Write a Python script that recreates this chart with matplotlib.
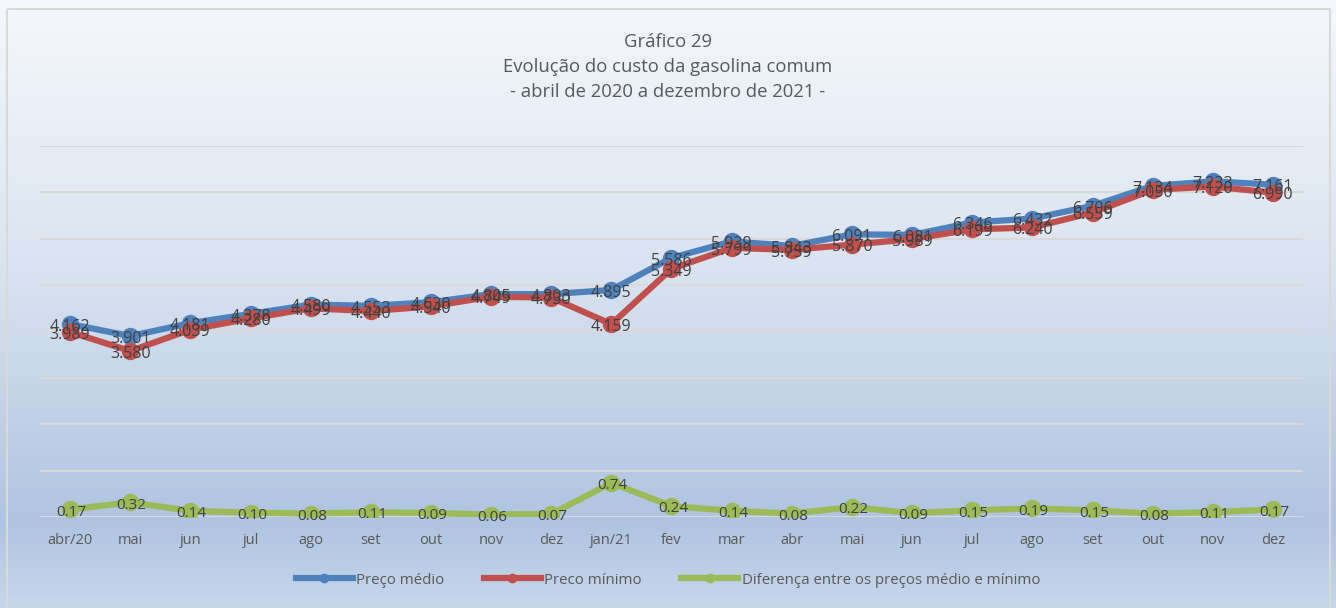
import matplotlib.pyplot as plt
import numpy as np
from matplotlib.colors import LinearSegmentedColormap
from matplotlib.lines import Line2D
from matplotlib.patches import Rectangle

plt.rcParams['font.family'] = ['Open Sans', 'DejaVu Sans']

meses = ['abr/20', 'mai', 'jun', 'jul', 'ago', 'set', 'out', 'nov', 'dez',
         'jan/21', 'fev', 'mar', 'abr', 'mai', 'jun', 'jul', 'ago', 'set',
         'out', 'nov', 'dez']
preco_medio = [4.162, 3.901, 4.181, 4.378, 4.580, 4.553, 4.630, 4.805, 4.803,
               4.895, 5.586, 5.939, 5.843, 6.091, 6.081, 6.346, 6.432, 6.706,
               7.134, 7.233, 7.161]
preco_minimo = [3.989, 3.580, 4.039, 4.280, 4.499, 4.440, 4.540, 4.749, 4.730,
                4.159, 5.349, 5.799, 5.759, 5.870, 5.989, 6.199, 6.240, 6.559,
                7.050, 7.120, 6.990]
diferenca = [0.17, 0.32, 0.14, 0.10, 0.08, 0.11, 0.09, 0.06, 0.07, 0.74, 0.24,
             0.14, 0.08, 0.22, 0.09, 0.15, 0.19, 0.15, 0.08, 0.11, 0.17]

azul = '#4f81bd'
vermelho = '#c0504d'
verde = '#9bbb59'
cinza = '#595959'

W, H = 1336, 608
fig = plt.figure(figsize=(W / 100, H / 100), dpi=100)

# fundo em degradê
bg = fig.add_axes([0, 0, 1, 1], zorder=-2)
cmap = LinearSegmentedColormap.from_list(
    'fundo', [(0, '#f5f8fc'), (0.45, '#d9e3f0'), (0.86, '#aec4e0'), (1, '#c6d7eb')])
grad = np.linspace(0, 1, 256).reshape(-1, 1)
bg.imshow(grad, aspect='auto', cmap=cmap, extent=[0, W, H, 0])
bg.add_patch(Rectangle((7, 9), 1323, 610, fill=False, edgecolor='#d9d9d9', lw=1.5))
bg.set_xlim(0, W)
bg.set_ylim(H, 0)
bg.axis('off')

ax = fig.add_axes([40 / W, 1 - 517.3 / H, 1263 / W, (517.3 - 145.7) / H])
ax.set_facecolor('none')
x = np.arange(len(meses))

ax.plot(x, preco_medio, color=azul, lw=4.5, marker='o', ms=11.5, zorder=3)
ax.plot(x, preco_minimo, color=vermelho, lw=4.5, marker='o', ms=11.5, zorder=4)
ax.plot(x, diferenca, color=verde, lw=4.5, marker='o', ms=11.5, zorder=3)

# rótulos de dados centrados nos marcadores
for xi, v in zip(x, preco_medio):
    ax.annotate('%.3f' % v, (xi, v), xytext=(0, -2), textcoords='offset points',
                ha='center', va='center', fontsize=11.5, color='#404040', zorder=6)
for xi, v in zip(x, preco_minimo):
    ax.annotate('%.3f' % v, (xi, v), xytext=(0, -2), textcoords='offset points',
                ha='center', va='center', fontsize=11.5, color='#404040', zorder=6)
for xi, v in zip(x, diferenca):
    ax.annotate('%.2f' % v, (xi, v), xytext=(1, -2), textcoords='offset points',
                ha='center', va='center', fontsize=11, color='#404040', zorder=6)

ax.set_xlim(-0.5, len(meses) - 0.5)
ax.set_ylim(0, 8)
ax.set_yticks(range(0, 9))
ax.set_yticklabels([])
ax.set_xticks(x)
ax.set_xticklabels(meses, fontsize=10.5, color=cinza)
ax.tick_params(length=0, pad=11)
ax.grid(axis='y', color='#d9d9d9', lw=1.5, zorder=0)
for s in ax.spines.values():
    s.set_visible(False)

titulo = ['Gráfico 29', 'Evolução do custo da gasolina comum',
          '- abril de 2020 a dezembro de 2021 -']
for i, linha in enumerate(titulo):
    fig.text(0.5, 1 - (42 + 25 * i) / H, linha, ha='center', va='center',
             fontsize=13.3, color=cinza)

handles = [Line2D([], [], color=c, lw=4.5, marker='o', ms=6) for c in (azul, vermelho, verde)]
fig.legend(handles, ['Preço médio', 'Preco mínimo', 'Diferença entre os preços médio e mínimo'],
           loc='center', bbox_to_anchor=(0.5, 1 - 580 / H), ncol=3, frameon=False,
           fontsize=10.8, labelcolor=cinza, handlelength=3.8, handletextpad=0.25,
           columnspacing=2.6)

fig.savefig('out.png', dpi=100)
